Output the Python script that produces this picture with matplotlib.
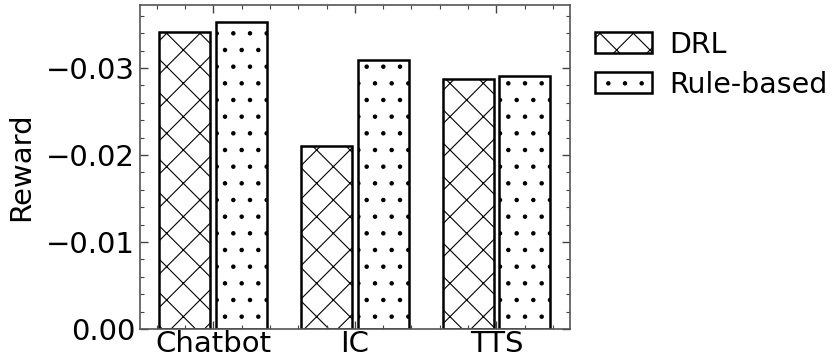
import numpy as np
import matplotlib
matplotlib.use('Agg')
import matplotlib.pyplot as plt
from matplotlib.ticker import AutoMinorLocator

categories = ['Chatbot', 'IC', 'TTS']
drl = [-0.0341, -0.0210, -0.0287]
rule_based = [-0.0353, -0.0309, -0.0291]

plt.rcParams['font.family'] = 'DejaVu Sans'
plt.rcParams['hatch.linewidth'] = 0.8

fig = plt.figure(figsize=(8.33, 3.64), dpi=100)
ax = fig.add_axes([0.168, 0.096, 0.516, 0.890])

x = np.arange(len(categories))
w = 0.36
ax.bar(x - 0.2, drl, w, color='white', edgecolor='black', linewidth=1.8, hatch='x', label='DRL')
ax.bar(x + 0.2, rule_based, w, color='white', edgecolor='black', linewidth=1.8, hatch='.', label='Rule-based')

ax.set_ylim(0, -0.03724)
ax.set_yticks([0, -0.01, -0.02, -0.03])
ax.set_xticks(x)
ax.set_xticklabels(categories)
ax.xaxis.set_minor_locator(AutoMinorLocator(5))
ax.yaxis.set_minor_locator(AutoMinorLocator(5))
ax.tick_params(which='both', direction='in', top=True, right=True, labelsize=21, color='#444444')
ax.tick_params(which='major', length=6, width=1)
ax.tick_params(which='minor', length=3, width=0.8)
ax.tick_params(axis='x', pad=1)
for s in ax.spines.values():
    s.set_color('#555555')
    s.set_linewidth(1.2)

ax.set_ylabel('Reward', fontsize=21, labelpad=8)
ax.legend(loc='upper left', bbox_to_anchor=(1.0, 1.0), frameon=False, fontsize=20.5,
          handlelength=2.0, handleheight=0.75, handletextpad=0.6, borderaxespad=0.5, labelspacing=0.42)

plt.savefig('out.png', dpi=100)
